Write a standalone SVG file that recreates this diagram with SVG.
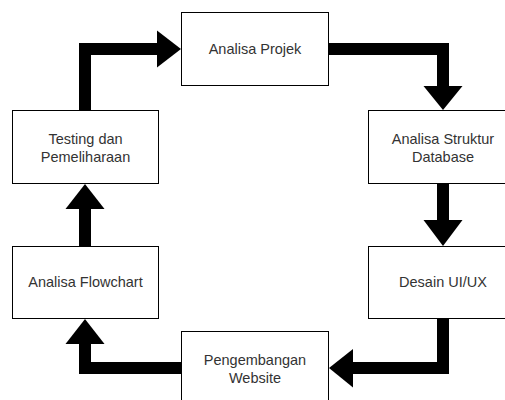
<svg xmlns="http://www.w3.org/2000/svg" width="505" height="400" viewBox="0 0 505 400">
<style>
.box{fill:#fff;stroke:#000;stroke-width:1}
.lbl{font-family:"Liberation Sans",Arial,sans-serif;font-size:14.5px;fill:#333;text-anchor:middle}
.ln{fill:none;stroke:#000;stroke-width:12;stroke-linejoin:miter;stroke-linecap:butt}
.hd{fill:#000}
</style>
<rect width="505" height="400" fill="#fff"/>
<g id="connectors">
<polyline class="ln" points="85,110 85,49 158,49"/>
<polygon class="hd" points="157,30.5 181,49 157,67.5"/>
<polyline class="ln" points="329,49 443,49 443,87"/>
<polygon class="hd" points="423.5,86 462.5,86 443,110"/>
<polyline class="ln" points="443,184 443,221"/>
<polygon class="hd" points="423.5,220 462.5,220 443,246"/>
<polyline class="ln" points="443,319 443,368 352,368"/>
<polygon class="hd" points="353,349 353,387.5 329,368"/>
<polyline class="ln" points="181,368 85,368 85,343"/>
<polygon class="hd" points="65.5,344 104.5,344 85,319"/>
<polyline class="ln" points="85,246 85,208"/>
<polygon class="hd" points="65.5,209 104.5,209 85,184"/>
</g>
<g id="n1"><rect class="box" x="181.5" y="12.5" width="147" height="73"/><text class="lbl" x="255" y="53.5">Analisa Projek</text></g>
<g id="n2"><rect class="box" x="368.5" y="110.5" width="150" height="73"/><text class="lbl" x="443" y="144">Analisa Struktur</text><text class="lbl" x="443" y="161.5">Database</text></g>
<g id="n3"><rect class="box" x="368.5" y="246.5" width="150" height="72"/><text class="lbl" x="443" y="287">Desain UI/UX</text></g>
<g id="n4"><rect class="box" x="181.5" y="331.5" width="147" height="73"/><text class="lbl" x="255" y="365">Pengembangan</text><text class="lbl" x="255" y="382.5">Website</text></g>
<g id="n5"><rect class="box" x="12.5" y="246.5" width="146" height="72"/><text class="lbl" x="85.5" y="287">Analisa Flowchart</text></g>
<g id="n6"><rect class="box" x="12.5" y="110.5" width="146" height="73"/><text class="lbl" x="85.5" y="144">Testing dan</text><text class="lbl" x="85.5" y="161.5">Pemeliharaan</text></g>
</svg>
